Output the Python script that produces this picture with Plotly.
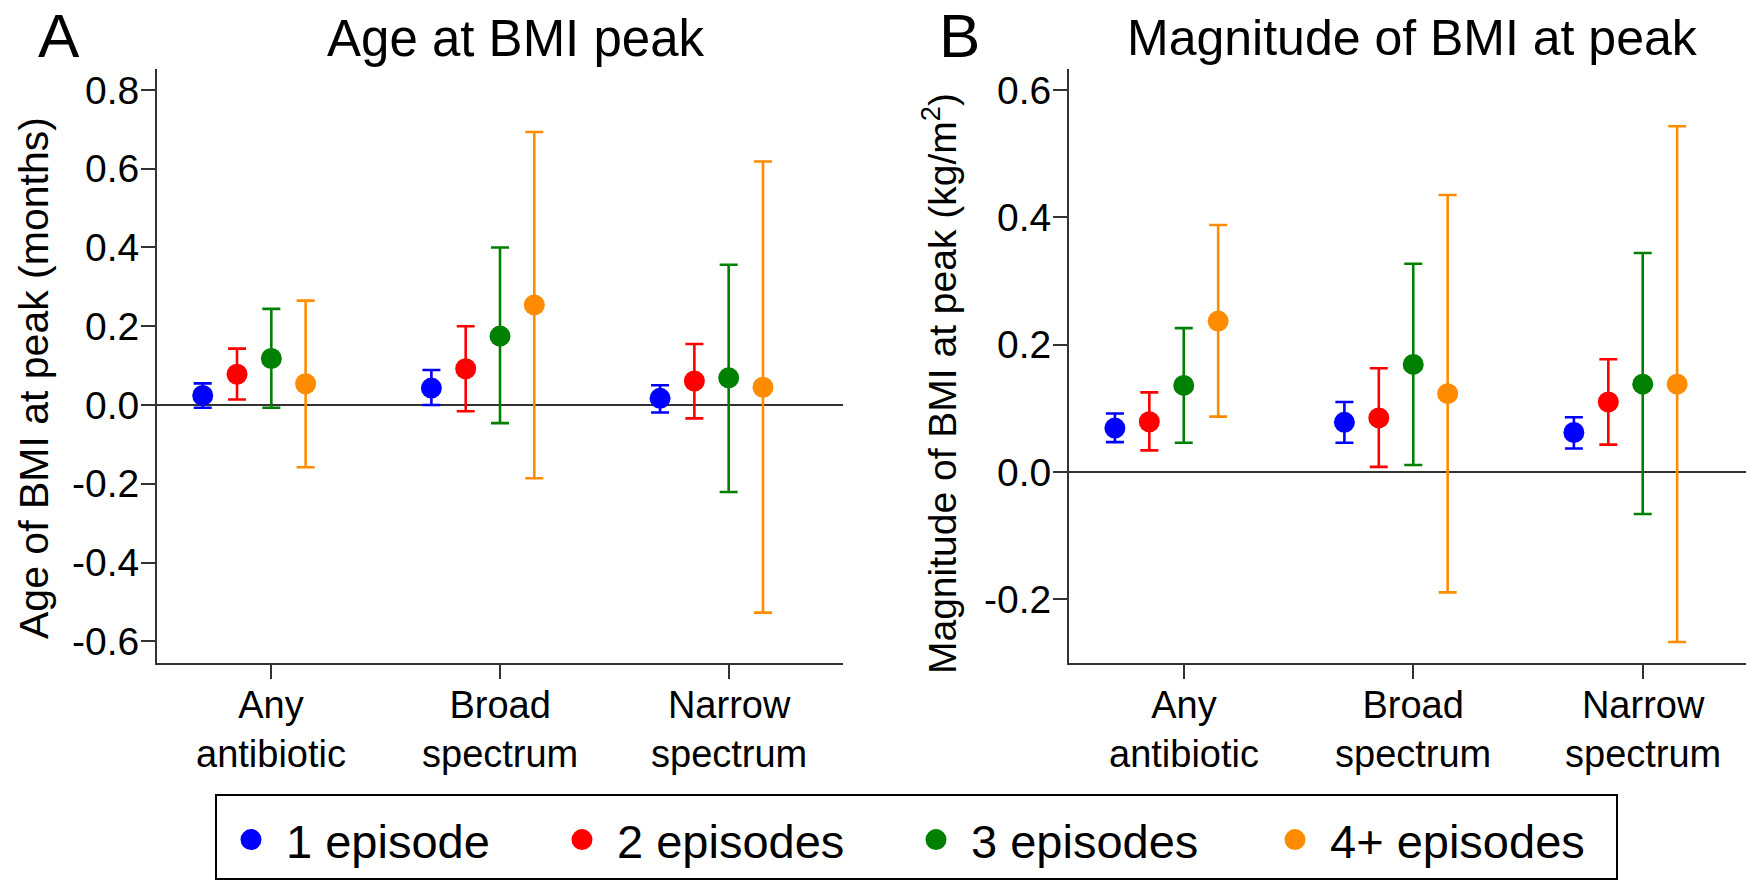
import plotly.graph_objects as go

# ---------------- data ----------------
CATEGORIES_L1 = ["Any", "Broad", "Narrow"]
CATEGORIES_L2 = ["antibiotic", "spectrum", "spectrum"]
CAT_POS = [1, 2, 3]

SERIES = ["1 episode", "2 episodes", "3 episodes", "4+ episodes"]
COLORS = ["#0000ff", "#ff0000", "#008000", "#ff8c00"]
OFFSETS = [-0.3, -0.15, 0.0, 0.15]
LEGEND_WIDTHS = [256, 279, 284, 273]

# Panel A: Age at BMI peak (months)
A_est_1 = [0.024, 0.043, 0.017]
A_lo_1 = [-0.007, 0.000, -0.019]
A_hi_1 = [0.055, 0.089, 0.050]
A_est_2 = [0.078, 0.092, 0.061]
A_lo_2 = [0.014, -0.016, -0.034]
A_hi_2 = [0.143, 0.200, 0.155]
A_est_3 = [0.118, 0.175, 0.069]
A_lo_3 = [-0.007, -0.046, -0.221]
A_hi_3 = [0.244, 0.400, 0.356]
A_est_4 = [0.054, 0.254, 0.045]
A_lo_4 = [-0.158, -0.186, -0.527]
A_hi_4 = [0.265, 0.693, 0.618]

# Panel B: Magnitude of BMI at peak (kg/m2)
B_est_1 = [0.069, 0.078, 0.062]
B_lo_1 = [0.047, 0.046, 0.037]
B_hi_1 = [0.092, 0.110, 0.086]
B_est_2 = [0.079, 0.085, 0.110]
B_lo_2 = [0.034, 0.008, 0.043]
B_hi_2 = [0.125, 0.163, 0.177]
B_est_3 = [0.136, 0.169, 0.138]
B_lo_3 = [0.046, 0.011, -0.066]
B_hi_3 = [0.226, 0.327, 0.344]
B_est_4 = [0.237, 0.123, 0.138]
B_lo_4 = [0.087, -0.189, -0.267]
B_hi_4 = [0.388, 0.435, 0.543]

A_TICKVALS = [-0.6, -0.4, -0.2, 0.0, 0.2, 0.4, 0.6, 0.8]
A_TICKTEXT = ["-0.6", "-0.4", "-0.2", "0.0", "0.2", "0.4", "0.6", "0.8"]
B_TICKVALS = [-0.2, 0.0, 0.2, 0.4, 0.6]
B_TICKTEXT = ["-0.2", "0.0", "0.2", "0.4", "0.6"]

A_EST = [A_est_1, A_est_2, A_est_3, A_est_4]
A_LO = [A_lo_1, A_lo_2, A_lo_3, A_lo_4]
A_HI = [A_hi_1, A_hi_2, A_hi_3, A_hi_4]
B_EST = [B_est_1, B_est_2, B_est_3, B_est_4]
B_LO = [B_lo_1, B_lo_2, B_lo_3, B_lo_4]
B_HI = [B_hi_1, B_hi_2, B_hi_3, B_hi_4]

# ---------------- figure ----------------
W, H = 1746, 880
FONT = "Liberation Sans, Arial, sans-serif"
AXCOL = "#333333"

fig = go.Figure()

def add_panel(est, lo, hi, xa, ya):
    for k in range(4):
        xs = [c + OFFSETS[k] for c in CAT_POS]
        plus = [h - e for h, e in zip(hi[k], est[k])]
        minus = [e - l for e, l in zip(est[k], lo[k])]
        fig.add_trace(go.Scatter(
            x=xs, y=est[k], mode="markers", xaxis=xa, yaxis=ya,
            marker=dict(color=COLORS[k], size=21, line=dict(width=0)),
            error_y=dict(type="data", array=plus, arrayminus=minus,
                         color=COLORS[k], thickness=2.6, width=9, visible=True),
            showlegend=False, hoverinfo="skip"))

add_panel(A_EST, A_LO, A_HI, "x", "y")
add_panel(B_EST, B_LO, B_HI, "x2", "y2")

# legend-only traces
for k in range(4):
    fig.add_trace(go.Scatter(
        x=[None], y=[None], mode="markers", name=SERIES[k], legendwidth=LEGEND_WIDTHS[k],
        marker=dict(color=COLORS[k], size=16, line=dict(color=COLORS[k], width=5)),
        showlegend=True))

ydom = [1 - 663 / H, 1 - 69 / H]
xdomA = [157 / W, 843 / W]
xdomB = [1069 / W, 1.0]

common_x = dict(showgrid=False, zeroline=False, showline=True, linecolor=AXCOL, linewidth=2,
                ticks="outside", ticklen=14, tickwidth=2, tickcolor=AXCOL,
                tickvals=CAT_POS, showticklabels=False, fixedrange=True)
common_y = dict(showgrid=False, showline=True, linecolor=AXCOL, linewidth=2,
                ticks="outside", ticklen=14, tickwidth=2, tickcolor=AXCOL,
                zeroline=True, zerolinecolor=AXCOL, zerolinewidth=2,
                ticklabelstandoff=-6,
                tickfont=dict(family=FONT, size=39, color="#000000"), fixedrange=True)

fig.update_layout(
    width=W, height=H, autosize=False,
    margin=dict(l=0, r=0, t=0, b=0, pad=0),
    paper_bgcolor="white", plot_bgcolor="white",
    font=dict(family=FONT, color="#000000"),
    xaxis=dict(domain=xdomA, range=[0.5, 3.5], anchor="y", **common_x),
    yaxis=dict(domain=ydom, range=[-0.655, 0.853], anchor="x",
               tickvals=A_TICKVALS, ticktext=A_TICKTEXT, **common_y),
    xaxis2=dict(domain=xdomB, range=[0.5, 3.45], anchor="y2", **common_x),
    yaxis2=dict(domain=ydom, range=[-0.300, 0.633], anchor="x2",
                tickvals=B_TICKVALS, ticktext=B_TICKTEXT, **common_y),
    legend=dict(orientation="h", x=216 / W, y=1 - 840 / H, xanchor="left", yanchor="middle",
                font=dict(family=FONT, size=47, color="#000000"),
                bgcolor="rgba(0,0,0,0)", borderwidth=0, itemwidth=60,
                entrywidthmode="pixels", itemclick=False),
    showlegend=True,
)

# legend frame
fig.add_shape(type="rect", xref="paper", yref="paper",
              x0=216 / W, x1=1617 / W, y0=1 - 879 / H, y1=1 - 795 / H,
              line=dict(color="#000000", width=2), fillcolor="rgba(0,0,0,0)")

ann = []
# category labels (two lines each)
for xa in ["x", "x2"]:
    for c, l1, l2 in zip(CAT_POS, CATEGORIES_L1, CATEGORIES_L2):
        ann.append(dict(x=c, xref=xa, y=1 - 729 / H, yref="paper", text=l1 + "<br>" + l2,
                        showarrow=False, xanchor="center", yanchor="middle",
                        font=dict(family=FONT, size=38)))

# titles and panel letters
ann.append(dict(x=59 / W, y=1 - 36 / H, xref="paper", yref="paper", text="A", showarrow=False,
                xanchor="center", yanchor="middle", font=dict(family=FONT, size=62)))
ann.append(dict(x=959 / W, y=1 - 36 / H, xref="paper", yref="paper", text="B", showarrow=False,
                xanchor="center", yanchor="middle", font=dict(family=FONT, size=62)))
ann.append(dict(x=516 / W, y=1 - 38 / H, xref="paper", yref="paper", text="Age at BMI peak",
                showarrow=False, xanchor="center", yanchor="middle", font=dict(family=FONT, size=51)))
ann.append(dict(x=1412 / W, y=1 - 38 / H, xref="paper", yref="paper", text="Magnitude of BMI at peak",
                showarrow=False, xanchor="center", yanchor="middle", font=dict(family=FONT, size=50)))
# y-axis titles
ann.append(dict(x=34 / W, y=1 - 378 / H, xref="paper", yref="paper",
                text="Age of BMI at peak (months)", textangle=-90, showarrow=False,
                xanchor="center", yanchor="middle", font=dict(family=FONT, size=41)))
ann.append(dict(x=940 / W, y=1 - 384 / H, xref="paper", yref="paper",
                text="Magnitude of BMI at peak (kg/m<sup>2</sup>)", textangle=-90, showarrow=False,
                xanchor="center", yanchor="middle", font=dict(family=FONT, size=39)))

fig.update_layout(annotations=ann)

fig.write_html("out.html", config={"displayModeBar": False},
               post_script="document.body.style.margin='0';document.body.style.overflow='hidden';")
